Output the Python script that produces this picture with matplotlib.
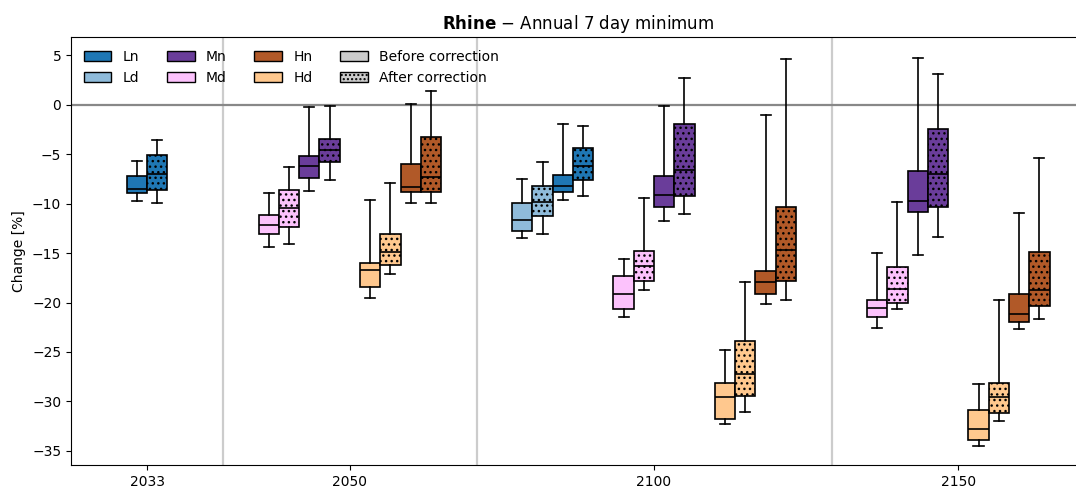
import matplotlib
matplotlib.use("Agg")
import matplotlib.pyplot as plt
from matplotlib.patches import Patch

# ---------------- data ----------------
years = [2033, 2050, 2100, 2150]
year_groups = {
    2033: [["Ln"]],
    2050: [["Md", "Mn"], ["Hd", "Hn"]],
    2100: [["Ld", "Ln"], ["Md", "Mn"], ["Hd", "Hn"]],
    2150: [["Md", "Mn"], ["Hd", "Hn"]],
}

# box order: for each (year, series) -> before, after
box_keys = [
    ("2033", "Ln", "before"), ("2033", "Ln", "after"),
    ("2050", "Md", "before"), ("2050", "Md", "after"),
    ("2050", "Mn", "before"), ("2050", "Mn", "after"),
    ("2050", "Hd", "before"), ("2050", "Hd", "after"),
    ("2050", "Hn", "before"), ("2050", "Hn", "after"),
    ("2100", "Ld", "before"), ("2100", "Ld", "after"),
    ("2100", "Ln", "before"), ("2100", "Ln", "after"),
    ("2100", "Md", "before"), ("2100", "Md", "after"),
    ("2100", "Mn", "before"), ("2100", "Mn", "after"),
    ("2100", "Hd", "before"), ("2100", "Hd", "after"),
    ("2100", "Hn", "before"), ("2100", "Hn", "after"),
    ("2150", "Md", "before"), ("2150", "Md", "after"),
    ("2150", "Mn", "before"), ("2150", "Mn", "after"),
    ("2150", "Hd", "before"), ("2150", "Hd", "after"),
    ("2150", "Hn", "before"), ("2150", "Hn", "after"),
]
whislo = [-9.73, -9.90, -14.34, -14.07, -8.75, -7.64, -19.50, -17.14, -9.97, -9.97,
          -13.47, -13.10, -9.60, -9.19, -21.48, -18.75, -11.75, -11.04, -32.30, -31.04,
          -20.17, -19.70, -22.56, -20.64, -15.19, -13.33, -34.53, -31.94, -22.67, -21.65]
q1 = [-8.96, -8.62, -13.10, -12.39, -7.37, -5.82, -18.45, -16.20, -8.85, -8.85,
      -12.76, -11.25, -8.85, -7.61, -20.70, -17.81, -10.37, -9.26, -31.75, -29.46,
      -19.09, -17.81, -21.50, -20.07, -10.88, -10.37, -33.86, -31.20, -22.00, -20.34]
med = [-8.48, -7.00, -12.15, -10.44, -6.20, -4.58, -16.70, -14.85, -8.30, -7.27,
       -11.68, -9.87, -8.25, -6.20, -19.09, -16.33, -9.16, -6.57, -29.50, -27.24,
       -17.95, -14.68, -20.54, -18.62, -9.73, -7.00, -32.80, -29.58, -21.15, -18.72]
q3 = [-7.17, -5.08, -11.15, -8.59, -5.15, -3.43, -16.00, -13.10, -6.00, -3.23,
      -9.97, -8.22, -7.07, -4.41, -17.37, -14.78, -7.24, -1.95, -28.10, -23.84,
      -16.77, -10.37, -19.76, -16.43, -6.70, -2.42, -30.86, -28.13, -19.13, -14.88]
whishi = [-5.74, -3.57, -8.96, -6.33, -0.27, -0.17, -9.66, -7.95, 0.07, 1.35,
          -7.54, -5.82, -1.92, -2.12, -15.56, -9.46, -0.13, 2.65, -24.80, -17.95,
          -1.01, 4.65, -15.02, -9.83, 4.75, 3.10, -28.20, -19.74, -10.98, -5.39]

colors = {
    "Ln": "#1f77b4", "Ld": "#8fbbda",
    "Mn": "#6a3d9a", "Md": "#fcc2fc",
    "Hn": "#b15928", "Hd": "#ffc88e",
}
legend_order = ["Ln", "Ld", "Mn", "Md", "Hn", "Hd"]

# ---------------- layout ----------------
BOXW = 0.2
positions = {}
tick_pos = []
separators = []
cur = 0.0
for yi, yr in enumerate(years):
    groups = year_groups[yr]
    centers = []
    for gi, grp in enumerate(groups):
        if gi > 0:
            cur += 1.0
        centers.append(cur)
        nbox = 2 * len(grp)
        for si, s in enumerate(grp):
            for ci, corr in enumerate(["before", "after"]):
                k = 2 * si + ci
                positions[(str(yr), s, corr)] = cur + (k - (nbox - 1) / 2) * BOXW
    tick_pos.append(sum(centers) / len(centers) if len(centers) != 3 else centers[1])
    if yi < len(years) - 1:
        separators.append(cur + 0.75)
        cur += 1.5

fig = plt.figure(figsize=(10.76, 4.87), dpi=100)
ax_left = 71 / 1076
ax_right = 1085 / 1076
ax_bottom = (487 - 465.3) / 487
ax_top = (487 - 37.3) / 487
ax = fig.add_axes([ax_left, ax_bottom, ax_right - ax_left, ax_top - ax_bottom])

for sx in separators:
    ax.axvline(sx, color="#cccccc", lw=1.6, zorder=1)
ax.axhline(0, color="#888888", lw=1.6, zorder=1)

for i, key in enumerate(box_keys):
    yr, s, corr = key
    stat = dict(whislo=whislo[i], q1=q1[i], med=med[i], q3=q3[i], whishi=whishi[i], fliers=[])
    art = ax.bxp([stat], positions=[positions[key]], widths=BOXW, patch_artist=True,
                 showfliers=False, manage_ticks=False,
                 boxprops=dict(facecolor=colors[s], edgecolor="black", linewidth=1.2),
                 medianprops=dict(color="black", linewidth=1.2),
                 whiskerprops=dict(color="black", linewidth=1.2),
                 capprops=dict(color="black", linewidth=1.2))
    for b in art["boxes"]:
        b.set_zorder(2)
        if corr == "after":
            b.set_hatch("...")

ax.set_xlim(-0.75, 9.25)
ax.set_ylim(-36.45, 6.8)
ax.set_xticks(tick_pos)
ax.set_xticklabels([str(y) for y in years])
ax.set_yticks([5, 0, -5, -10, -15, -20, -25, -30, -35])
ax.set_ylabel("Change [%]")
ax.set_title(r"$\bf{Rhine}$ $-$ Annual 7 day minimum", fontsize=12)

handles = [Patch(facecolor=colors[s], edgecolor="black", label=s) for s in legend_order]
handles.append(Patch(facecolor="#cccccc", edgecolor="black", label="Before correction"))
handles.append(Patch(facecolor="#cccccc", edgecolor="black", hatch="....", label="After correction"))
ax.legend(handles=handles, ncol=4, loc="upper left", frameon=False)

fig.savefig("out.png", dpi=100)
